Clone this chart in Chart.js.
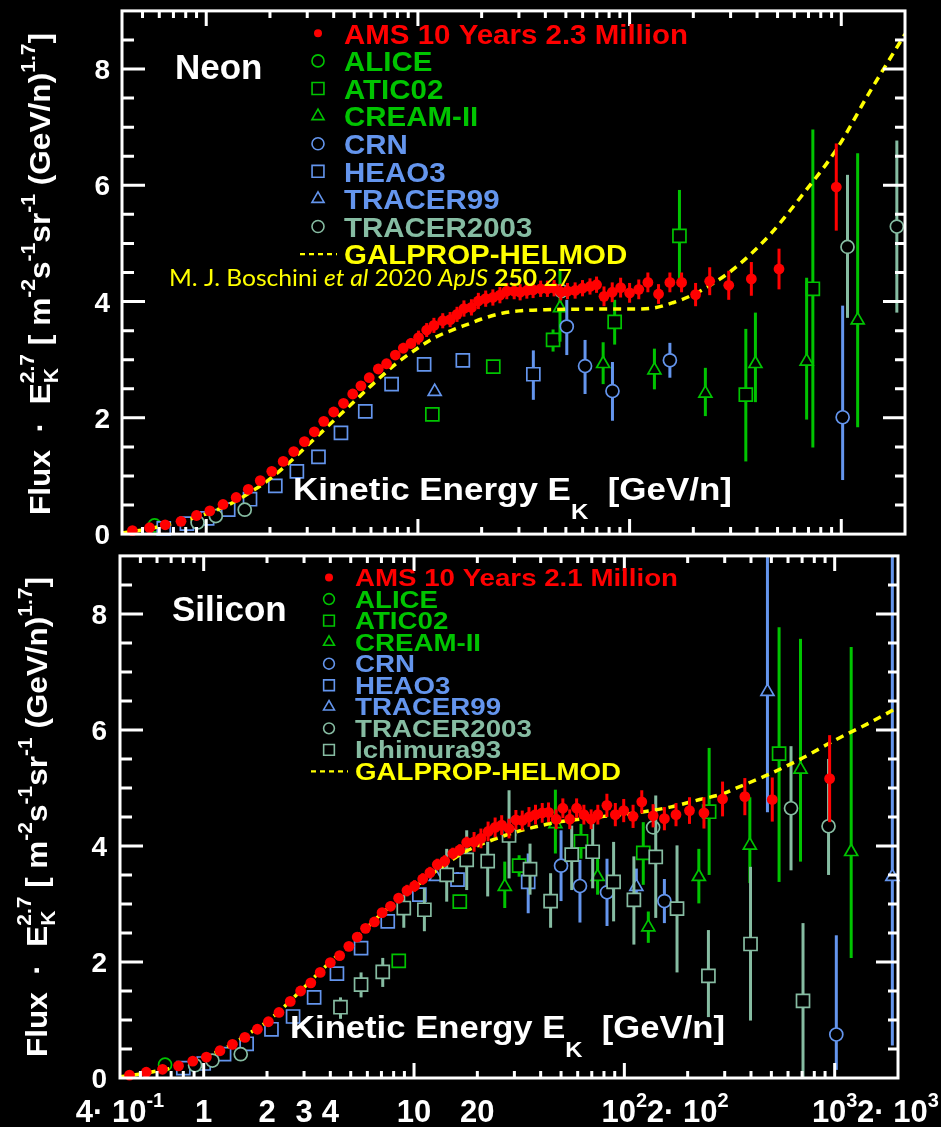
<!DOCTYPE html>
<html>
<head>
<meta charset="utf-8">
<script src="https://cdn.jsdelivr.net/npm/chart.js@4.4.1/dist/chart.umd.min.js"></script>
<style>
    html, body { margin: 0; padding: 0; background: #000; }
    #wrap { position: relative; width: 941px; height: 1127px; overflow: hidden; background: #000; }
    #neon { position: absolute; left: 0; top: 0; }
    #silicon { position: absolute; left: 0; top: 545px; }
</style>
</head>
<body>
<div id="wrap">
    <canvas id="neon" width="941" height="545"></canvas>
    <canvas id="silicon" width="941" height="582"></canvas>
</div>
<script>
// ---------- axis ticks ----------
var yTickValues = [0, 2, 4, 6, 8];
var xLabelValues = [0.4, 1, 2, 3, 4, 10, 20, 100, 200, 1000, 2000];
var xLabelBase = ['4· 10', '1', '2', '3', '4', '10', '20', '10', '2· 10', '10', '2· 10'];
var xLabelPow = ['-1', '', '', '', '', '', '', '2', '2', '3', '3'];

// ---------- Neon ----------
var neAmsE = [0.448, 0.54, 0.64, 0.76, 0.90, 1.04, 1.2, 1.385, 1.58, 1.80, 2.04, 2.31, 2.59, 2.91, 3.24, 3.59, 4.0, 4.45, 4.92, 5.38, 5.89, 6.5, 7.11, 7.82, 8.53, 9.27, 10.07, 11.0, 11.9, 13.1, 14.2, 15.3, 16.5, 17.9, 19.3, 20.9, 22.6, 24.4, 26.3, 28.5, 30.4, 32.7, 35.0, 38.0, 40.9, 44.0, 47.3, 50.9, 55.3, 59.9, 65, 69.8, 75.7, 82.8, 90.7, 100, 110.5, 122, 137, 155, 176, 205, 239, 294, 376, 508, 947];
var neAmsF = [0.06, 0.11, 0.16, 0.22, 0.32, 0.40, 0.51, 0.63, 0.77, 0.92, 1.08, 1.25, 1.42, 1.59, 1.76, 1.94, 2.10, 2.25, 2.41, 2.55, 2.69, 2.84, 2.93, 3.08, 3.20, 3.28, 3.38, 3.51, 3.59, 3.67, 3.69, 3.78, 3.88, 3.90, 4.01, 4.05, 4.07, 4.11, 4.18, 4.18, 4.16, 4.19, 4.20, 4.22, 4.22, 4.23, 4.16, 4.18, 4.19, 4.23, 4.26, 4.29, 4.09, 4.16, 4.24, 4.15, 4.21, 4.33, 4.13, 4.33, 4.33, 4.12, 4.35, 4.28, 4.39, 4.56, 5.97];
var neAmsErr = [0.01, 0.01, 0.01, 0.01, 0.01, 0.01, 0.01, 0.01, 0.02, 0.02, 0.02, 0.03, 0.03, 0.03, 0.04, 0.04, 0.05, 0.05, 0.06, 0.06, 0.07, 0.07, 0.08, 0.08, 0.09, 0.09, 0.12, 0.12, 0.13, 0.13, 0.13, 0.13, 0.14, 0.14, 0.14, 0.14, 0.14, 0.14, 0.14, 0.14, 0.14, 0.14, 0.14, 0.14, 0.14, 0.14, 0.14, 0.14, 0.14, 0.14, 0.14, 0.14, 0.17, 0.17, 0.17, 0.17, 0.17, 0.17, 0.17, 0.17, 0.17, 0.2, 0.24, 0.25, 0.29, 0.35, 0.75];

var neGalE = [0.4, 0.5, 0.6, 0.8, 1.0, 1.3, 1.7, 2.0, 2.5, 3.0, 3.5, 4.0, 5.0, 6.0, 7.0, 8.0, 10, 12, 15, 17.5, 20, 25, 30, 40, 60, 100, 130, 160, 200, 250, 320, 460, 660, 950, 1370, 2000];
var neGalF = [0.02, 0.07, 0.13, 0.24, 0.35, 0.52, 0.77, 0.95, 1.25, 1.52, 1.75, 1.95, 2.28, 2.55, 2.77, 2.95, 3.2, 3.38, 3.53, 3.62, 3.7, 3.8, 3.84, 3.86, 3.87, 3.87, 3.89, 3.98, 4.12, 4.32, 4.6, 5.15, 5.85, 6.62, 7.62, 8.6];

var neAliceE = [0.57];
var neAliceF = [0.15];
var neAticE = [11.7, 22.7, 43.5, 85, 172, 354, 734];
var neAticF = [2.06, 2.88, 3.34, 3.65, 5.13, 2.40, 4.22];
var neAticLo = [null, null, 3.14, 3.26, 4.37, 1.25, 1.49];
var neAticHi = [null, null, 3.52, 4.03, 5.92, 3.53, 6.96];
var neCreamE = [46.9, 75, 131, 228, 393, 686, 1195];
var neCreamF = [3.89, 2.93, 2.82, 2.42, 2.93, 2.97, 3.68];
var neCreamLo = [3.31, 2.58, 2.49, 2.03, 2.27, 1.97, 1.84];
var neCreamHi = [4.56, 3.30, 3.19, 2.86, 3.81, 4.41, 6.55];
var neCrnE = [50.5, 61.6, 83, 155, 1015];
var neCrnF = [3.57, 2.89, 2.46, 2.99, 2.01];
var neCrnLo = [3.08, 2.41, 1.95, 2.69, 0.93];
var neCrnHi = [4.03, 3.34, 2.96, 3.29, 3.93];
var neHeaoE = [0.63, 0.81, 1.01, 1.27, 1.61, 2.12, 2.68, 3.39, 4.33, 5.64, 7.51, 10.7, 16.3, 35.1];
var neHeaoF = [0.10, 0.18, 0.27, 0.42, 0.60, 0.83, 1.08, 1.33, 1.74, 2.11, 2.58, 2.92, 2.99, 2.75];
var neHeaoLo = [null, null, null, null, null, null, null, null, null, null, null, null, null, 2.31];
var neHeaoHi = [null, null, null, null, null, null, null, null, null, null, null, null, null, 3.16];
var neTr99E = [12.0];
var neTr99F = [2.45];
var neTr03E = [0.91, 1.11, 1.52, 47.6, 1070, 1830];
var neTr03F = [0.20, 0.31, 0.42, 4.18, 4.94, 5.29];
var neTr03Lo = [null, null, null, null, 3.72, 3.81];
var neTr03Hi = [null, null, null, null, 6.18, 6.77];

// ---------- Silicon ----------
var siAmsE = [0.444, 0.533, 0.637, 0.759, 0.887, 1.03, 1.195, 1.37, 1.57, 1.80, 2.03, 2.28, 2.58, 2.89, 3.23, 3.58, 4.0, 4.43, 4.90, 5.37, 5.88, 6.48, 7.05, 7.73, 8.45, 9.26, 10.06, 11.0, 11.9, 12.9, 14.0, 15.3, 16.5, 17.8, 19.3, 20.8, 22.5, 24.3, 26.1, 28.3, 30.5, 32.7, 35.2, 37.8, 40.7, 43.6, 47.4, 51, 55, 59.3, 64.2, 69.5, 74.8, 82.6, 90.6, 99.3, 110, 121, 137, 155, 176, 204, 239, 293, 374, 505, 946];
var siAmsF = [0.05, 0.10, 0.15, 0.21, 0.29, 0.36, 0.47, 0.58, 0.70, 0.84, 0.97, 1.13, 1.32, 1.50, 1.64, 1.82, 1.99, 2.11, 2.27, 2.43, 2.58, 2.69, 2.85, 2.96, 3.10, 3.23, 3.31, 3.43, 3.54, 3.68, 3.74, 3.87, 3.93, 4.06, 4.07, 4.13, 4.25, 4.32, 4.36, 4.30, 4.45, 4.44, 4.50, 4.54, 4.57, 4.58, 4.46, 4.65, 4.46, 4.65, 4.54, 4.46, 4.54, 4.70, 4.54, 4.61, 4.51, 4.76, 4.52, 4.47, 4.54, 4.61, 4.57, 4.81, 4.85, 4.80, 5.16];
var siAmsErr = [0.01, 0.01, 0.01, 0.01, 0.01, 0.01, 0.01, 0.01, 0.02, 0.02, 0.02, 0.03, 0.03, 0.03, 0.04, 0.04, 0.05, 0.05, 0.06, 0.06, 0.07, 0.07, 0.08, 0.08, 0.09, 0.1, 0.1, 0.1, 0.1, 0.1, 0.1, 0.1, 0.1, 0.1, 0.17, 0.17, 0.17, 0.17, 0.17, 0.17, 0.17, 0.17, 0.17, 0.17, 0.17, 0.17, 0.17, 0.17, 0.17, 0.17, 0.17, 0.17, 0.17, 0.2, 0.2, 0.2, 0.2, 0.2, 0.2, 0.2, 0.2, 0.23, 0.27, 0.3, 0.32, 0.38, 0.75];

var siGalE = [0.4, 0.5, 0.6, 0.8, 1.0, 1.3, 1.7, 2.0, 2.5, 3.0, 3.5, 4.0, 5.0, 6.0, 7.0, 8.0, 10, 12, 15, 17.5, 20, 27, 35, 50, 65, 80, 114, 165, 228, 294, 342, 490, 707, 1010, 1460, 2000];
var siGalF = [0.02, 0.07, 0.12, 0.22, 0.35, 0.54, 0.80, 0.97, 1.28, 1.56, 1.80, 2.0, 2.32, 2.6, 2.83, 3.0, 3.28, 3.5, 3.75, 3.9, 4.0, 4.18, 4.30, 4.42, 4.47, 4.51, 4.57, 4.67, 4.8, 4.9, 5.0, 5.24, 5.52, 5.83, 6.12, 6.39];

var siAliceE = [0.655];
var siAliceF = [0.23];
var siAticE = [8.46, 16.5, 31.6, 62.2, 123, 253, 544];
var siAticF = [2.02, 3.04, 3.66, 4.08, 3.88, 4.59, 5.59];
var siAticLo = [null, null, 3.47, 3.78, 3.33, 3.50, 3.38];
var siAticHi = [null, null, 3.84, 4.38, 4.41, 5.69, 7.77];
var siCreamE = [27.0, 47, 74.6, 130, 226, 395, 688, 1198];
var siCreamF = [3.30, 4.38, 3.47, 2.60, 3.47, 4.01, 5.32, 3.90];
var siCreamLo = [2.93, 3.87, 3.16, 2.33, 3.01, 3.36, 3.73, 2.07];
var siCreamHi = [3.73, 4.97, 3.78, 2.87, 3.95, 4.84, 7.57, 7.43];
var siCrnE = [50, 61.5, 82.7, 155, 1018];
var siCrnF = [3.66, 3.31, 3.20, 3.05, 0.75];
var siCrnLo = [3.05, 2.68, 2.62, 2.67, 0.14];
var siCrnHi = [4.27, 3.76, 3.78, 3.43, 2.46];
var siHeaoE = [0.80, 1.0, 1.25, 1.60, 2.10, 2.66, 3.35, 4.30, 5.6, 7.5, 10.6, 16.1, 34.9];
var siHeaoF = [0.17, 0.25, 0.41, 0.59, 0.84, 1.06, 1.39, 1.80, 2.24, 2.70, 3.16, 3.42, 3.38];
var siHeaoLo = [null, null, null, null, null, null, null, null, null, null, null, 3.30, 2.84];
var siHeaoHi = [null, null, null, null, null, null, null, null, null, null, null, 3.55, 3.87];
var siTr99E = [12.7, 114, 479, 1880];
var siTr99F = [3.47, 3.30, 6.66, 3.47];
var siTr99Lo = [null, 3.04, 4.58, 0.56];
var siTr99Hi = [null, 3.61, 9.5, 9.5];
var siTr03E = [0.91, 1.10, 1.50, 28.3, 137, 620, 935];
var siTr03F = [0.22, 0.30, 0.41, 4.19, 4.32, 4.65, 4.34];
var siTr03Lo = [null, null, null, null, null, 3.58, 3.50];
var siTr03Hi = [null, null, null, null, null, 5.72, 5.5];
var siIchE = [4.47, 5.6, 7.1, 8.94, 11.2, 14.3, 17.8, 22.4, 28.3, 35.6, 44.6, 56.2, 70.7, 88.9, 111, 141, 178, 251, 398, 707];
var siIchF = [1.22, 1.61, 1.83, 2.93, 2.90, 3.50, 3.76, 3.74, 4.18, 3.60, 3.05, 3.85, 3.90, 3.38, 3.07, 3.81, 2.92, 1.76, 2.31, 1.33];
var siIchLo = [1.02, 1.39, 1.57, 2.59, 2.53, 3.04, 3.24, 3.13, 3.44, 3.16, 2.59, 3.24, 3.27, 2.70, 2.30, 2.76, 1.82, 1.05, 0.99, 0];
var siIchHi = [1.39, 1.82, 2.07, 3.16, 3.27, 3.95, 4.27, 4.07, 4.96, 4.04, 3.53, 4.35, 4.38, 4.07, 3.82, 4.87, 4.01, 2.55, 3.64, 2.67];

var RED = '#ff0000', GREEN = '#00c400', BLUE = '#6495ed', GRAY = '#86bca2', YELLOW = '#ffff00';
var FONT = '"Liberation Sans", Arial, Helvetica, sans-serif';

function bold(size) {
    return 'bold ' + size + 'px ' + FONT;
}

function pts(E, F) {
    return E.map(function (e, i) { return {x: e, y: F[i]}; });
}

function amsSet(E, F, err) {
    return {
        label: 'AMS', data: pts(E, F),
        errLo: F.map(function (v, i) { return v - err[i]; }),
        errHi: F.map(function (v, i) { return v + err[i]; }),
        errColor: RED,
        pointStyle: 'circle', pointRadius: 5.4, pointBorderWidth: 0,
        pointBackgroundColor: RED, pointBorderColor: RED, showLine: false, clip: false
    };
}

function modelSet(E, F) {
    return {
        label: 'GALPROP-HELMOD', data: pts(E, F), showLine: true,
        borderColor: YELLOW, borderWidth: 3.5, borderDash: [8, 6],
        pointRadius: 0, cubicInterpolationMode: 'monotone', fill: false
    };
}

function expSet(label, E, F, lo, hi, color, style) {
    var r = style === 'rect' ? 9.2 : (style === 'triangle' ? 7.5 : 6.5);
    return {
        label: label, data: pts(E, F), errLo: lo, errHi: hi, errColor: color,
        pointStyle: style, pointRadius: r, pointBorderWidth: 1.7,
        pointBorderColor: color, pointBackgroundColor: '#000', showLine: false, clip: false
    };
}

// error bars go under each dataset's own markers
var errorBars = {
    id: 'errorBars',
    beforeDatasetDraw: function (chart, args) {
        var ds = chart.data.datasets[args.index];
        if (!ds.errLo) return;
        var ctx = chart.ctx, a = chart.chartArea, y = chart.scales.y;
        ctx.save();
        ctx.beginPath();
        ctx.rect(a.left, a.top, a.right - a.left, a.bottom - a.top);
        ctx.clip();
        ctx.strokeStyle = ds.errColor;
        ctx.lineWidth = 3;
        args.meta.data.forEach(function (pt, i) {
            if (ds.errLo[i] == null) return;
            ctx.beginPath();
            ctx.moveTo(pt.x, y.getPixelForValue(ds.errLo[i]));
            ctx.lineTo(pt.x, y.getPixelForValue(ds.errHi[i]));
            ctx.stroke();
        });
        ctx.restore();
    }
};

// rich text: segments with own font / offset, "stack" puts a segment over the previous one
function layoutRich(ctx, segs) {
    var cx = 0, pStart = 0, pW = 0, items = [];
    segs.forEach(function (s) {
        ctx.font = s.font;
        var w = ctx.measureText(s.t).width, start;
        if (s.stack) { start = pStart; cx = start + Math.max(pW, w); }
        else { start = cx; cx += w; }
        items.push({s: s, start: start});
        pStart = start; pW = w;
    });
    return {items: items, width: cx};
}

function drawRich(ctx, segs, x, y, o) {
    o = o || {};
    var L = layoutRich(ctx, segs);
    var sx = o.width ? o.width / L.width : (o.sx || 1);
    ctx.save();
    ctx.translate(x, y);
    if (o.rotate) ctx.rotate(o.rotate);
    if (o.align === 'center') ctx.translate(-L.width * sx / 2, 0);
    ctx.scale(sx, 1);
    ctx.textAlign = 'left';
    ctx.textBaseline = 'alphabetic';
    L.items.forEach(function (it) {
        ctx.font = it.s.font;
        ctx.fillStyle = it.s.color || o.color || '#fff';
        ctx.fillText(it.s.t, it.start, it.s.dy || 0);
    });
    ctx.restore();
    return sx;
}

var panelDecor = {
    id: 'panel',
    afterDraw: function (chart, args, p) {
        var ctx = chart.ctx, a = chart.chartArea, xs = chart.scales.x, ys = chart.scales.y;
        ctx.save();
        ctx.strokeStyle = '#fff';
        ctx.lineWidth = 3;
        ctx.lineCap = 'butt';

        // x ticks, inside, bottom and top
        for (var d = -1; d <= 3; d++) {
            for (var m = 1; m <= 9; m++) {
                var v = m * Math.pow(10, d);
                if (v <= 0.4 || v >= 2000) continue;
                var px = xs.getPixelForValue(v), len = m === 1 ? 15 : 7;
                ctx.beginPath();
                ctx.moveTo(px, a.bottom); ctx.lineTo(px, a.bottom - len);
                ctx.moveTo(px, a.top); ctx.lineTo(px, a.top + len);
                ctx.stroke();
            }
        }
        // y ticks every 0.5
        for (var t = 0.5; t < 9; t += 0.5) {
            var py = ys.getPixelForValue(t), major = t % 2 === 0;
            ctx.beginPath();
            ctx.moveTo(a.left, py); ctx.lineTo(a.left + (major ? 23 : 12), py);
            ctx.moveTo(a.right, py); ctx.lineTo(a.right - (major ? 22 : 10), py);
            ctx.stroke();
        }
        ctx.strokeRect(a.left, a.top, a.right - a.left, a.bottom - a.top);

        // y tick labels
        ctx.fillStyle = '#fff';
        ctx.font = bold(28);
        ctx.textAlign = 'right';
        ctx.textBaseline = 'alphabetic';
        yTickValues.forEach(function (v) {
            ctx.fillText(String(v), p.yLabelX, ys.getPixelForValue(v) + 10);
        });

        // x tick labels
        if (p.xLabelY) {
            xLabelValues.forEach(function (v, i) {
                var segs = [{t: xLabelBase[i], font: bold(31)}];
                if (xLabelPow[i]) segs.push({t: xLabelPow[i], font: bold(20), dy: -15});
                drawRich(ctx, segs, xs.getPixelForValue(v), p.xLabelY, {align: 'center'});
            });
        }

        // y axis title
        var B = 30, S = 20;
        drawRich(ctx, [
            {t: 'Flux  ', font: bold(B)}, {t: '·', font: bold(B)}, {t: '  E', font: bold(B)},
            {t: 'K', font: bold(S), dy: 8}, {t: '2.7', font: bold(S), dy: -16, stack: true},
            {t: ' [ m', font: bold(B)}, {t: '-2', font: bold(S), dy: -15},
            {t: 's', font: bold(B)}, {t: '-1', font: bold(S), dy: -15},
            {t: 'sr', font: bold(B)}, {t: '-1', font: bold(S), dy: -15},
            {t: ' (GeV/n)', font: bold(B)}, {t: '1.7', font: bold(S), dy: -15},
            {t: ']', font: bold(B)}
        ], p.titleX, p.titleY, {rotate: -Math.PI / 2, width: p.titleLen});

        // x axis title inside the plot
        drawRich(ctx, [
            {t: 'Kinetic Energy E', font: bold(32)}, {t: 'K', font: bold(22), dy: 19},
            {t: '  [GeV/n]', font: bold(32)}
        ], p.keX, p.keY, {width: p.keW});

        // element name
        ctx.font = bold(35);
        ctx.textAlign = 'left';
        ctx.fillStyle = '#fff';
        ctx.fillText(p.name, p.nameX, p.nameY);

        // legend
        ctx.font = bold(p.legendSize);
        var sx = p.legendWidth / ctx.measureText(p.legend[0][0]).width;
        var cap = p.legendSize * 0.716;
        p.legend.forEach(function (row, i) {
            var ry = p.rowY0 + i * p.rowStep, mx = p.markerX;
            ctx.strokeStyle = row[1];
            if (row[2] === 'dash') {
                ctx.lineWidth = 2.2;
                ctx.setLineDash([5, 4]);
                ctx.beginPath(); ctx.moveTo(mx - 18, ry); ctx.lineTo(mx + 19, ry); ctx.stroke();
                ctx.setLineDash([]);
            } else if (row[2] === 'dot') {
                ctx.fillStyle = row[1];
                Chart.helpers.drawPoint(ctx, {pointStyle: 'circle', radius: 4, borderWidth: 0}, mx, ry);
            } else {
                var r = row[2] === 'rect' ? 8.4 : (row[2] === 'triangle' ? 7 : 6);
                ctx.fillStyle = '#000';
                ctx.lineWidth = 1.6;
                Chart.helpers.drawPoint(ctx, {pointStyle: row[2], radius: r * p.markerScale, borderWidth: 1.6}, mx, ry);
            }
            drawRich(ctx, [{t: row[0], font: bold(p.legendSize), color: row[1]}], p.textX, ry + cap / 2, {sx: sx});
        });

        // reference
        if (p.cite) {
            var L = '23px Lato, "Open Sans", sans-serif';
            drawRich(ctx, [
                {t: 'M. J. Boschini ', font: L}, {t: 'et al', font: 'italic ' + L},
                {t: ' 2020 ', font: L}, {t: 'ApJS', font: 'italic ' + L}, {t: ' ', font: L},
                {t: '250', font: 'bold ' + L}, {t: ' 27', font: L}
            ], 169, 286, {width: 403, color: YELLOW});
        }
        ctx.restore();
    }
};

function makeChart(id, datasets, pad, panel) {
    return new Chart(document.getElementById(id), {
        type: 'scatter',
        data: {datasets: datasets},
        options: {
            responsive: false,
            animation: false,
            devicePixelRatio: 1,
            events: [],
            layout: {padding: pad},
            scales: {
                x: {type: 'logarithmic', min: 0.4, max: 2000, display: false},
                y: {type: 'linear', min: 0, max: 9, display: false}
            },
            plugins: {legend: {display: false}, tooltip: {enabled: false}, panel: panel}
        },
        plugins: [errorBars, panelDecor]
    });
}

makeChart('neon', [
    amsSet(neAmsE, neAmsF, neAmsErr),
    modelSet(neGalE, neGalF),
    expSet('TRACER2003', neTr03E, neTr03F, neTr03Lo, neTr03Hi, GRAY, 'circle'),
    expSet('TRACER99', neTr99E, neTr99F, null, null, BLUE, 'triangle'),
    expSet('HEAO3', neHeaoE, neHeaoF, neHeaoLo, neHeaoHi, BLUE, 'rect'),
    expSet('CRN', neCrnE, neCrnF, neCrnLo, neCrnHi, BLUE, 'circle'),
    expSet('CREAM-II', neCreamE, neCreamF, neCreamLo, neCreamHi, GREEN, 'triangle'),
    expSet('ATIC02', neAticE, neAticF, neAticLo, neAticHi, GREEN, 'rect'),
    expSet('ALICE', neAliceE, neAliceF, null, null, GREEN, 'circle')
], {left: 122, top: 8, right: 36, bottom: 7}, {
    name: 'Neon', nameX: 175, nameY: 79,
    yLabelX: 110, titleX: 50, titleY: 515, titleLen: 482,
    keX: 293, keY: 500, keW: 439,
    markerX: 318, textX: 344, rowY0: 33.3, rowStep: 27.6, legendSize: 28.5, legendWidth: 344, markerScale: 1,
    cite: true,
    legend: [
        ['AMS 10 Years 2.3 Million', RED, 'dot'],
        ['ALICE', GREEN, 'circle'],
        ['ATIC02', GREEN, 'rect'],
        ['CREAM-II', GREEN, 'triangle'],
        ['CRN', BLUE, 'circle'],
        ['HEAO3', BLUE, 'rect'],
        ['TRACER99', BLUE, 'triangle'],
        ['TRACER2003', GRAY, 'circle'],
        ['GALPROP-HELMOD', YELLOW, 'dash']
    ]
});

makeChart('silicon', [
    amsSet(siAmsE, siAmsF, siAmsErr),
    modelSet(siGalE, siGalF),
    expSet('Ichimura93', siIchE, siIchF, siIchLo, siIchHi, GRAY, 'rect'),
    expSet('TRACER2003', siTr03E, siTr03F, siTr03Lo, siTr03Hi, GRAY, 'circle'),
    expSet('TRACER99', siTr99E, siTr99F, siTr99Lo, siTr99Hi, BLUE, 'triangle'),
    expSet('HEAO3', siHeaoE, siHeaoF, siHeaoLo, siHeaoHi, BLUE, 'rect'),
    expSet('CRN', siCrnE, siCrnF, siCrnLo, siCrnHi, BLUE, 'circle'),
    expSet('CREAM-II', siCreamE, siCreamF, siCreamLo, siCreamHi, GREEN, 'triangle'),
    expSet('ATIC02', siAticE, siAticF, siAticLo, siAticHi, GREEN, 'rect'),
    expSet('ALICE', siAliceE, siAliceF, null, null, GREEN, 'circle')
], {left: 120, top: 7, right: 43, bottom: 49}, {
    name: 'Silicon', nameX: 172, nameY: 76,
    yLabelX: 107, titleX: 47, titleY: 512, titleLen: 480,
    keX: 290, keY: 493, keW: 435, xLabelY: 577,
    markerX: 329, textX: 355, rowY0: 32.5, rowStep: 21.55, legendSize: 24, legendWidth: 323, markerScale: 0.9,
    cite: false,
    legend: [
        ['AMS 10 Years 2.1 Million', RED, 'dot'],
        ['ALICE', GREEN, 'circle'],
        ['ATIC02', GREEN, 'rect'],
        ['CREAM-II', GREEN, 'triangle'],
        ['CRN', BLUE, 'circle'],
        ['HEAO3', BLUE, 'rect'],
        ['TRACER99', BLUE, 'triangle'],
        ['TRACER2003', GRAY, 'circle'],
        ['Ichimura93', GRAY, 'rect'],
        ['GALPROP-HELMOD', YELLOW, 'dash']
    ]
});
</script>
</body>
</html>
